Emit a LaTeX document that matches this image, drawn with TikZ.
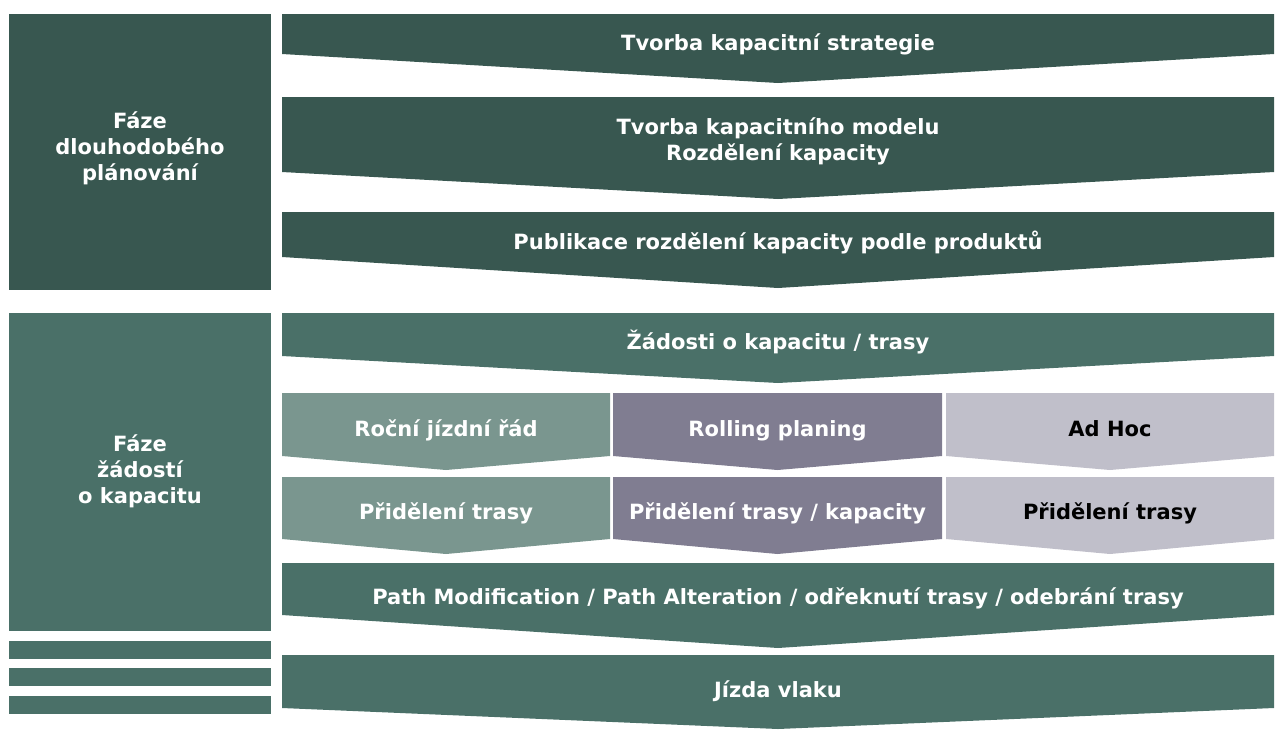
\documentclass[tikz,border=0pt]{standalone}
\usepackage{fontspec}
\setmainfont{DejaVu Sans}
\definecolor{dkgreen}{HTML}{385750}
\definecolor{mdgreen}{HTML}{4A7068}
\definecolor{ltgreen}{HTML}{7A968F}
\definecolor{purplegray}{HTML}{807D91}
\definecolor{lavender}{HTML}{C0BFCA}
\newcommand\chevshape[6]{\fill[#6] (#1,#3) -- (#2,#3) -- (#2,#4) -- ({(#1+#2)/2},#5) -- (#1,#4) -- cycle;}
\tikzset{
  lbl/.style={font=\bfseries\fontsize{21}{26}\selectfont, text=white, align=center, inner sep=0pt},
  one/.style={text height=15pt, text depth=0pt},
  lbldark/.style={lbl, text=black},
}
\begin{document}
\begin{tikzpicture}[x=1pt,y=-1pt]
\useasboundingbox (0,0) rectangle (1275,729);
% left boxes
\fill[dkgreen] (9,14) rectangle (271,290);
\fill[mdgreen] (9,313) rectangle (271,631);
\fill[mdgreen] (9,641) rectangle (271,659);
\fill[mdgreen] (9,668) rectangle (271,686);
\fill[mdgreen] (9,696) rectangle (271,714);
\node[lbl] (phase1) at (140,148) {Fáze\\dlouhodobého\\plánování};
\node[lbl] (phase2) at (140,471) {Fáze\\žádostí\\o kapacitu};
% top section chevrons
\chevshape{282}{1274}{14}{54}{83}{dkgreen}
\node[lbl,one] (a1) at (778,43) {Tvorba kapacitní strategie};
\chevshape{282}{1274}{97}{172}{199}{dkgreen}
\node[lbl] (a2) at (778,141) {Tvorba kapacitního modelu\\Rozdělení kapacity};
\chevshape{282}{1274}{212}{257}{288}{dkgreen}
\node[lbl,one] (a3) at (778,242) {Publikace rozdělení kapacity podle produktů};
% lower section
\chevshape{282}{1274}{313}{356}{383}{mdgreen}
\node[lbl,one] (a4) at (778,342) {Žádosti o kapacitu / trasy};
\chevshape{282}{610}{393}{456}{470}{ltgreen}
\node[lbl,one] (b1) at (446,429) {Roční jízdní řád};
\chevshape{613}{942}{393}{456}{470}{purplegray}
\node[lbl,one] (b2) at (777.5,429) {Rolling planing};
\chevshape{946}{1274}{393}{456}{470}{lavender}
\node[lbldark,one] (b3) at (1110,429) {Ad Hoc};
\chevshape{282}{610}{477}{539}{554}{ltgreen}
\node[lbl,one] (c1) at (446,512) {Přidělení trasy};
\chevshape{613}{942}{477}{539}{554}{purplegray}
\node[lbl,one] (c2) at (777.5,512) {Přidělení trasy / kapacity};
\chevshape{946}{1274}{477}{539}{554}{lavender}
\node[lbldark,one] (c3) at (1110,512) {Přidělení trasy};
\chevshape{282}{1274}{563}{615}{648}{mdgreen}
\node[lbl,one] (a5) at (778,597) {Path Modification / Path Alteration / odřeknutí trasy / odebrání trasy};
\chevshape{282}{1274}{655}{708}{729}{mdgreen}
\node[lbl,one] (a6) at (778,690) {Jízda vlaku};
\end{tikzpicture}
\end{document}
